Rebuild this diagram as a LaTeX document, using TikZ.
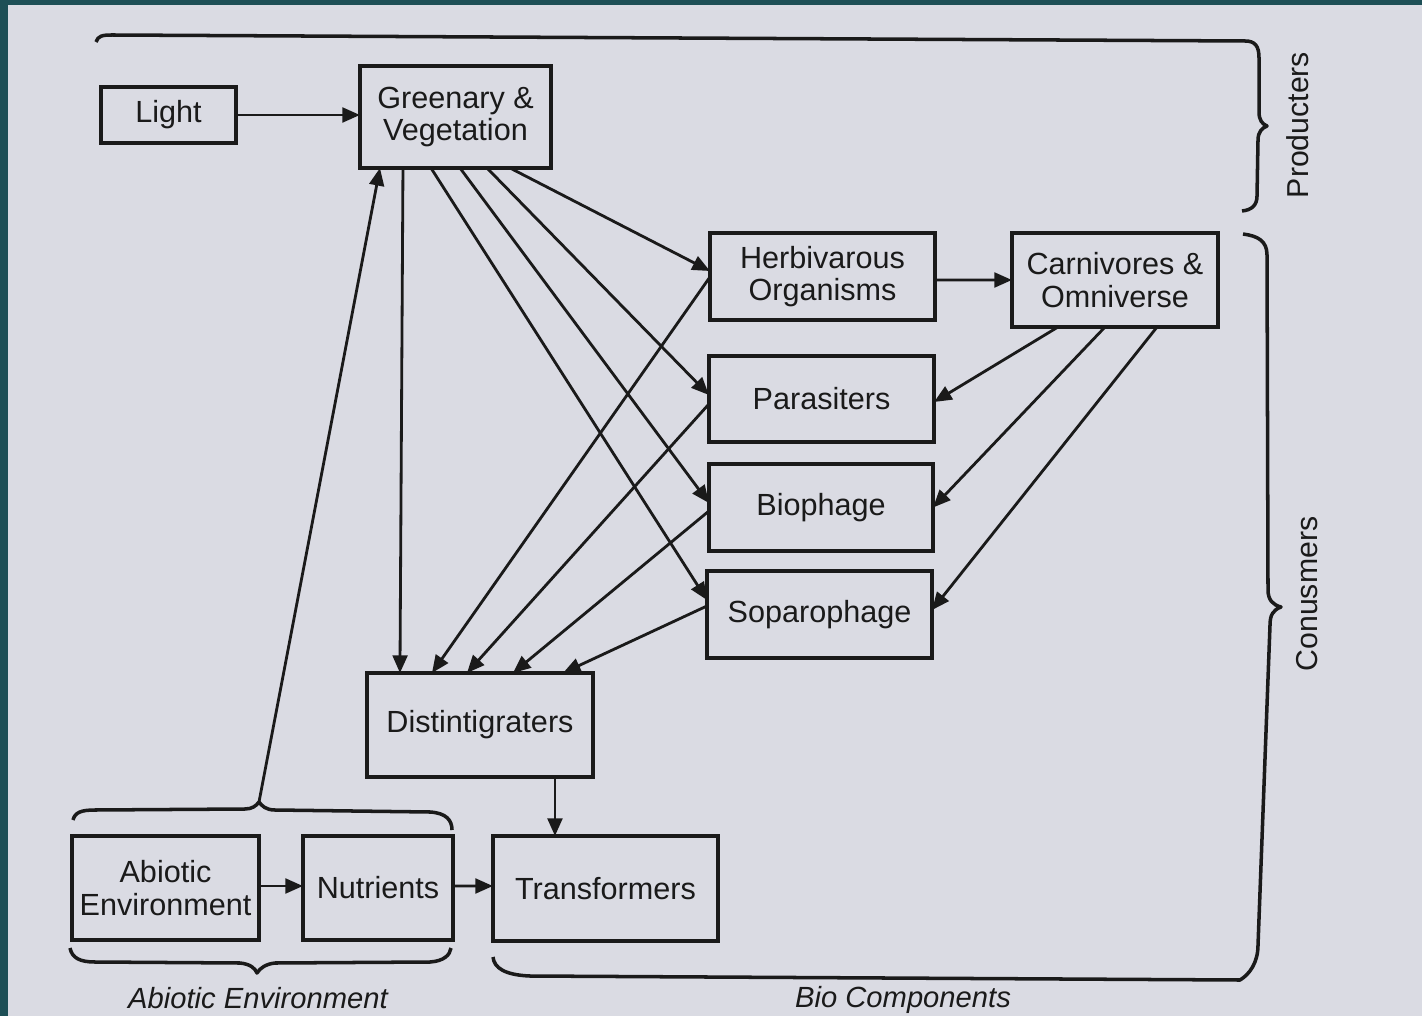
\documentclass[tikz,border=0pt]{standalone}
\usepackage{fontspec}
\setmainfont{Liberation Sans}
\usetikzlibrary{arrows.meta,calc}
\definecolor{bgpaper}{HTML}{DADBE3}
\definecolor{frameteal}{HTML}{1D4F56}
\definecolor{ink}{HTML}{1A1A1A}
\begin{document}
\begin{tikzpicture}[x=0.01cm,y=-0.01cm,
  box/.style={draw=ink,line width=1pt,inner sep=0pt,outer sep=0pt,align=center,text=ink,
    font=\fontsize{8.7}{9.3}\selectfont},
  arr/.style={draw=ink,line width=0.8pt,-{Triangle[length=5pt,width=4.2pt]}},
  bracepath/.style={draw=ink,line width=1pt,line join=round},
  lbl/.style={text=ink,inner sep=0pt,font=\fontsize{8.3}{9}\selectfont\itshape},
  sidelbl/.style={text=ink,inner sep=0pt,rotate=90,font=\fontsize{8.6}{9}\selectfont}]
\useasboundingbox (0,0) rectangle (1422,1016);
\fill[bgpaper] (0,0) rectangle (1422,1016);
\fill[frameteal] (0,0) rectangle (1422,5);
\fill[frameteal] (0,0) rectangle (8,1016);

% boxes
\node[box,minimum width=1.35cm,minimum height=0.56cm] (light) at (168.5,115) {Light};
\node[box,minimum width=1.91cm,minimum height=1.02cm] (green) at (455.5,117) {Greenary \&\\Vegetation};
\node[box,minimum width=2.25cm,minimum height=0.87cm] (herb) at (822.5,276.5) {Herbivarous\\Organisms};
\node[box,minimum width=2.06cm,minimum height=0.94cm] (carn) at (1115,280) {Carnivores \&\\Omniverse};
\node[box,minimum width=2.25cm,minimum height=0.86cm] (para) at (821.5,399) {Parasiters};
\node[box,minimum width=2.24cm,minimum height=0.87cm] (bio) at (821,507.5) {Biophage};
\node[box,minimum width=2.25cm,minimum height=0.87cm] (sopa) at (819.5,614.5) {Soparophage};
\node[box,minimum width=2.26cm,minimum height=1.04cm] (dist) at (480,725) {Distintigraters};
\node[box,minimum width=1.87cm,minimum height=1.04cm] (abio) at (165.5,888) {Abiotic\\Environment};
\node[box,minimum width=1.50cm,minimum height=1.04cm] (nutr) at (378,888) {Nutrients};
\node[box,minimum width=2.25cm,minimum height=1.05cm] (trans) at (605.5,888.5) {Transformers};

% labels
\node[lbl] (ablbl) at (258,998) {Abiotic Environment};
\node[lbl] (bclbl) at (903,1000) {Bio Components};
\node[sidelbl] (prlbl) at (1298,125) {Producters};
\node[sidelbl] (colbl) at (1307,594) {Conusmers};

% braces
\draw[bracepath] (96,42) .. controls (98,36) and (102,35) .. (112,35) -- (1245,41)
  .. controls (1255,41) and (1259,46) .. (1259,58) -- (1259,112)
  .. controls (1259,120) and (1262,124) .. (1267,126)
  .. controls (1262,128) and (1258,132) .. (1258,140) -- (1257,196)
  .. controls (1257,205) and (1252,210) .. (1242,211);
\draw[bracepath] (1243,234) .. controls (1258,236) and (1267,241) .. (1267,255) -- (1268,590)
  .. controls (1268,600) and (1273,605) .. (1281,607)
  .. controls (1273,610) and (1270,615) .. (1270,625) -- (1258,945)
  .. controls (1258,962) and (1250,974) .. (1240,980) -- (530,976)
  .. controls (505,975) and (494,968) .. (493,957);
\coordinate (abtop) at (259,802);
\draw[bracepath] (73,820) .. controls (75,812) and (82,810) .. (95,810) -- (245,809)
  .. controls (252,809) and (256,806) .. (abtop)
  .. controls (262,806) and (266,810) .. (275,810) -- (430,812)
  .. controls (446,813) and (452,820) .. (452,830);
\draw[bracepath] (70,948) .. controls (72,958) and (80,962) .. (95,962) -- (240,963)
  .. controls (250,964) and (255,968) .. (257,973)
  .. controls (260,968) and (266,964) .. (275,963) -- (430,962)
  .. controls (444,961) and (450,955) .. (451,948);

% connectors
\draw[arr] (light.east) -- (light.east -| green.west);
\draw[arr] (abtop) -- ([xshift=-0.755cm]green.south);
\draw[arr] ([xshift=-0.525cm]green.south) -- ([xshift=-0.80cm]dist.north);
\draw[arr] ([xshift=-0.245cm]green.south) -- ([yshift=0.145cm]sopa.west);
\draw[arr] ([xshift=0.045cm]green.south) -- ([yshift=0.045cm]bio.west);
\draw[arr] ([xshift=0.315cm]green.south) -- ([yshift=0.04cm]para.west);
\draw[arr] ([xshift=0.545cm]green.south) -- ([yshift=0.055cm]herb.west);

\draw[arr] ([yshift=-0.005cm]herb.west) -- ([xshift=-0.48cm]dist.north);
\draw[arr] ([yshift=-0.05cm]para.west) -- ([xshift=-0.13cm]dist.north);
\draw[arr] ([yshift=-0.035cm]bio.west) -- ([xshift=0.33cm]dist.north);
\draw[arr] ([yshift=0.085cm]sopa.west) -- ([xshift=0.83cm]dist.north);

\draw[arr] ([yshift=-0.035cm]herb.east) -- (carn.west);
\draw[arr] ([xshift=-0.57cm]carn.south) -- ([yshift=-0.03cm]para.east);
\draw[arr] ([xshift=-0.10cm]carn.south) -- (bio.east);
\draw[arr] ([xshift=0.42cm]carn.south) -- ([yshift=0.045cm]sopa.east);

\draw[arr] ([xshift=-0.505cm]trans.north |- dist.south) -- ([xshift=-0.505cm]trans.north);
\draw[arr] ([yshift=0.02cm]abio.east) -- ([yshift=0.02cm]nutr.west);
\draw[arr] ([yshift=0.02cm]nutr.east) -- ([yshift=0.025cm]trans.west);
\end{tikzpicture}
\end{document}
